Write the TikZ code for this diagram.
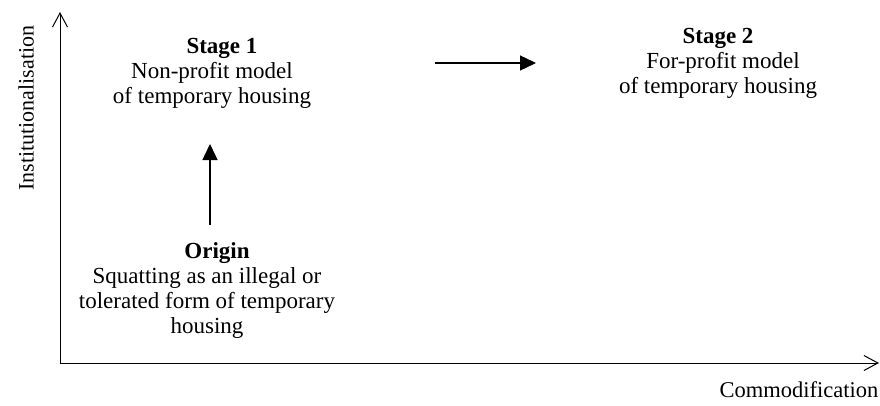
\documentclass[tikz,border=0pt]{standalone}
\usepackage{fontspec}
\setmainfont{Liberation Serif}
\usetikzlibrary{arrows.meta}
\begin{document}
\begin{tikzpicture}[x=1pt,y=-1pt,
  txt/.style={align=center,inner sep=0pt,font=\fontsize{23}{25}\selectfont},
  axis/.style={line width=1pt,-{Straight Barb[length=14pt,width=15pt,line width=1pt]}},
  flow/.style={line width=1.4pt,-{Triangle[length=16pt,width=15pt]}}]
\useasboundingbox (0,0) rectangle (880,405);
\coordinate (O) at (60,363);
\coordinate (ytop) at (60,12);
\coordinate (xend) at (879,363);
\draw[axis] (O) -- (ytop);
\draw[axis] (O) -- (xend);
\node[txt,rotate=90,font=\fontsize{22}{26}\selectfont] (ylab) at (26,108) {Institutionalisation};
\node[txt,font=\fontsize{22.5}{26}\selectfont] (xlab) at (799,390) {Commodification};
\node[txt] (s1) at (212,73)
  {\hspace*{20pt}\textbf{Stage 1}\\Non-profit model\hspace*{8pt}\\of temporary housing};
\node[txt] (s2) at (718,63)
  {\textbf{Stage 2}\\\hspace*{10pt}For-profit model\\of temporary housing};
\node[txt] (orig) at (207,290)
  {\hspace*{20pt}\textbf{Origin}\\Squatting as an illegal or\\tolerated form of temporary\\housing};
\coordinate (v1) at (210,225);
\coordinate (v2) at (210,144);
\draw[flow] (v1) -- (v2);
\coordinate (h1) at (435,63);
\coordinate (h2) at (536,63);
\draw[flow] (h1) -- (h2);
\end{tikzpicture}
\end{document}
